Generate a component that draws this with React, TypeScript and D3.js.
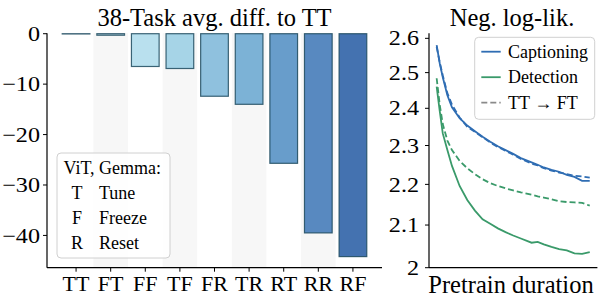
import * as d3 from 'd3';

// BAR DATA (left panel)
const categories = ['TT', 'FT', 'FF', 'TF', 'FR', 'TR', 'RT', 'RR', 'RF'];
const diffs = [-0.05, -0.3, -6.5, -6.9, -12.4, -14.0, -25.7, -39.5, -44.2];
const barColors = [
  '#d4eef5',
  '#c9e8f2',
  '#b9e0ee',
  '#a6d4e7',
  '#8fc1de',
  '#7cb2d6',
  '#689dcb',
  '#5889c0',
  '#4472b0',
];
const shadedCats = ['FT', 'TF', 'TR', 'RR'];
const leftTicks = [0, -10, -20, -30, -40];
const legendTitle = 'ViT, Gemma:';
const legendKeys = ['T', 'F', 'R'];
const legendWords = ['Tune', 'Freeze', 'Reset'];

// LINE DATA (right panel), x = % of pretraining
const progress = [0, 2, 4, 7, 10, 15, 20, 25, 30, 35, 40, 45, 50, 55, 62, 66, 70, 75, 80, 85, 90, 95, 100];
const captioning = [
  2.58, 2.527, 2.487, 2.436, 2.403, 2.373, 2.353, 2.338, 2.323, 2.31, 2.298, 2.288,
  2.278, 2.267, 2.256, 2.25, 2.243, 2.237, 2.232, 2.224, 2.219, 2.209, 2.209,
];
const captioningFT = [
  2.575, 2.53, 2.492, 2.442, 2.41, 2.375, 2.35, 2.336, 2.322, 2.308, 2.296, 2.286,
  2.276, 2.265, 2.253, 2.248, 2.241, 2.235, 2.23, 2.226, 2.222, 2.22, 2.217,
];
const detection = [
  2.46, 2.393, 2.332, 2.288, 2.247, 2.196, 2.161, 2.135, 2.114, 2.103, 2.092, 2.083,
  2.075, 2.068, 2.058, 2.06, 2.054, 2.048, 2.043, 2.04, 2.033, 2.032, 2.036,
];
const detectionFT = [
  2.484, 2.41, 2.357, 2.313, 2.288, 2.26, 2.241, 2.226, 2.213, 2.203, 2.196, 2.19,
  2.185, 2.18, 2.174, 2.17, 2.167, 2.163, 2.158, 2.156, 2.155, 2.154, 2.147,
];
const rightTicks = [2, 2.1, 2.2, 2.3, 2.4, 2.5, 2.6];
const seriesNames = ['Captioning', 'Detection', 'TT \u2192 FT'];

const BLUE = '#2f6db3';
const GREEN = '#3a9a6a';
const FONT = "'Liberation Serif', 'Times New Roman', serif";
// numeric tick labels in the original are wider than the rest of the text
const TICK_STRETCH = 1.15;

function App() {
  // LEFT SCALES
  const xL = d3.scaleLinear().domain([-0.84, 8.84]).range([47, 382]);
  const yL = d3.scaleLinear().domain([-46.4, 0.1]).range([267.7, 33.2]);
  const barW = 0.8;

  // RIGHT SCALES
  const xR = d3.scaleLinear().domain([-5, 105]).range([429, 597.4]);
  const yR = d3.scaleLog().domain([2, 2.615]).range([267.7, 33.3]);

  const line = (vals: number[]) =>
    d3
      .line<number>()
      .x((d, i) => xR(progress[i]))
      .y((d) => yR(d))(vals) || '';

  const curves = [
    { vals: captioning, color: BLUE, dash: null },
    { vals: captioningFT, color: BLUE, dash: '6,3' },
    { vals: detection, color: GREEN, dash: null },
    { vals: detectionFT, color: GREEN, dash: '6,3' },
  ];
  const legendLines = [
    { color: BLUE, dash: null },
    { color: GREEN, dash: null },
    { color: '#8a8a8a', dash: '6,3' },
  ];

  return (
    <svg
      width={598}
      height={298}
      style={{ position: 'absolute', left: 0, top: 0, background: 'white', fontFamily: FONT }}
    >
      {/* ---------- LEFT PANEL ---------- */}
      {categories.map((c, i) =>
        shadedCats.includes(c) ? (
          <rect
            key={'band' + c}
            x={xL(i - 0.5)}
            y={yL.range()[1]}
            width={xL(i + 0.5) - xL(i - 0.5)}
            height={yL.range()[0] - yL.range()[1]}
            fill='#f7f7f7'
          />
        ) : null,
      )}
      {diffs.map((v, i) => (
        <rect
          key={'bar' + i}
          x={xL(i - barW / 2)}
          y={yL(0)}
          width={xL(barW / 2) - xL(-barW / 2)}
          height={yL(v) - yL(0)}
          fill={barColors[i]}
          stroke='#1d4a5e'
          strokeOpacity={0.85}
          strokeWidth={1.2}
        />
      ))}
      {/* axes */}
      <line x1={47} x2={47} y1={yL.range()[1]} y2={yL.range()[0]} stroke='black' strokeWidth={1.2} />
      <line x1={47} x2={382} y1={yL.range()[0]} y2={yL.range()[0]} stroke='black' strokeWidth={1.2} />
      {leftTicks.map((t) => (
        <g key={'lt' + t}>
          <line x1={43} x2={47} y1={yL(t)} y2={yL(t)} stroke='black' strokeWidth={1} />
          <text
            transform={`translate(40,${yL(t)}) scale(${TICK_STRETCH},1)`}
            dy='0.34em'
            textAnchor='end'
            fontSize={21}
          >
            {t < 0 ? '\u2212' + Math.abs(t) : t}
          </text>
        </g>
      ))}
      {categories.map((c, i) => (
        <g key={'xt' + c}>
          <line x1={xL(i)} x2={xL(i)} y1={267.7} y2={271.7} stroke='black' strokeWidth={1} />
          <text x={xL(i)} y={291} textAnchor='middle' fontSize={22}>
            {c}
          </text>
        </g>
      ))}
      <text x={(47 + 382) / 2} y={26} textAnchor='middle' fontSize={24.5}>
        38-Task avg. diff. to TT
      </text>
      {/* legend */}
      <rect x={57} y={153} width={113} height={105} rx={4} fill='white' fillOpacity={0.8} stroke='#d0d0d0' />
      <text x={63.5} y={173.5} fontSize={18}>
        {legendTitle}
      </text>
      {legendKeys.map((k, i) => (
        <g key={'lk' + k}>
          <text x={77} y={198.5 + i * 25} textAnchor='middle' fontSize={18}>
            {k}
          </text>
          <text x={99} y={198.5 + i * 25} fontSize={18}>
            {legendWords[i]}
          </text>
        </g>
      ))}

      {/* ---------- RIGHT PANEL ---------- */}
      {curves.map((c, i) => (
        <path
          key={'curve' + i}
          d={line(c.vals)}
          fill='none'
          stroke={c.color}
          strokeWidth={1.8}
          strokeDasharray={c.dash || undefined}
        />
      ))}
      <line x1={429} x2={429} y1={33.3} y2={267.7} stroke='black' strokeWidth={1.2} />
      <line x1={429} x2={597.4} y1={267.7} y2={267.7} stroke='black' strokeWidth={1.2} />
      {rightTicks.map((t) => (
        <g key={'rt' + t}>
          <line x1={425} x2={429} y1={yR(t)} y2={yR(t)} stroke='black' strokeWidth={1} />
          <text
            transform={`translate(419,${yR(t)}) scale(${TICK_STRETCH},1)`}
            dy='0.34em'
            textAnchor='end'
            fontSize={21}
          >
            {t === 2 ? '2' : t.toFixed(1)}
          </text>
        </g>
      ))}
      <text x={512} y={26} textAnchor='middle' fontSize={24.5}>
        Neg. log-lik.
      </text>
      <text x={511} y={293} textAnchor='middle' fontSize={24.5}>
        Pretrain duration
      </text>
      {/* legend */}
      <rect x={474.7} y={37.3} width={120} height={82} rx={4} fill='white' fillOpacity={0.8} stroke='#d0d0d0' />
      {seriesNames.map((s, i) => (
        <g key={'leg' + s}>
          <line
            x1={481.3}
            x2={500.7}
            y1={51.7 + i * 25.5}
            y2={51.7 + i * 25.5}
            stroke={legendLines[i].color}
            strokeWidth={1.8}
            strokeDasharray={legendLines[i].dash || undefined}
          />
          <text x={508} y={57.5 + i * 25.5} fontSize={18}>
            {s}
          </text>
        </g>
      ))}
    </svg>
  );
}

export default App;
